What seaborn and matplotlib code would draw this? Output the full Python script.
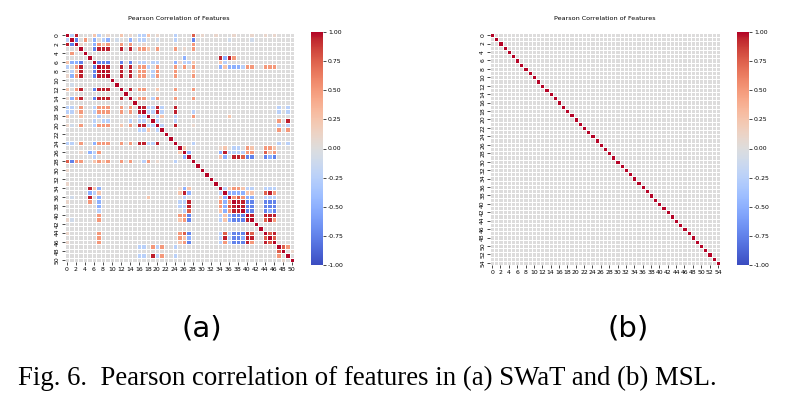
import numpy as np
import matplotlib
matplotlib.use("Agg")
import matplotlib.pyplot as plt
import seaborn as sns

# correlation levels used when reading the picture
levels = {"R": 0.95, "r": 0.75, "o": 0.5, "p": 0.25, "f": 0.1,
          "g": -0.1, "c": -0.25, "b": -0.5, "B": -0.75, "D": -0.95}

# SWaT: upper triangle, one string per row, "colLevel" tokens
swat_upper = [
    "1c 2R 6p 7c 9f 12p 14f 16c 17c 18p 20f 24c 28r 30f 33f 37f 41f 44f 46f",  # 0
    "2B 4o 6b 8c 9b 11g 14b 16c 17c 20g 24c 28B 36g 41g",                      # 1
    "3f 6b 7o 8p 9o 12o 14o 17f 28o",                                           # 2
    "6B 7R 8R 9R 12R 14R 16o 17o 18p 20o 24o 26f 28o",                          # 3
    "",                                                                         # 4
    "26b 34R 35b 36R 37o",                                                      # 5
    "7B 8B 9B 12B 14B 16c 17c 19c 20c 24b 25f 26c 27c 28p 34p 35c",            # 6
    "8R 9R 12R 14R 16o 17o 18c 20o 24o 26o 28o 34b 35p 36b 37b 38b 39c 40o 41o 44o 45o 46o",
    "9R 12R 14R 16o 17o 19c 20o 24o 28p",                                       # 8
    "12R 14R 16o 17o 19c 20o 24o 28o",                                          # 9
    "", "",                                                                     # 10, 11
    "14R 16o 17o 20p 24o 28o",                                                  # 12
    "",                                                                         # 13
    "16o 17o 19c 20o 24o 28o",                                                  # 14
    "",                                                                         # 15
    "17R 18c 19c 20R 21c 24R 47c 49c",                                          # 16
    "18c 19c 20R 21c 24R 28c 47c 49c",                                          # 17
    "20c 21p 24c 28o 36p",                                                      # 18
    "20c 24c 47o 49R",                                                          # 19
    "21c 24R 28f 47c 49c",                                                      # 20
    "47o 49o",                                                                  # 21
    "", "",                                                                     # 22, 23
    "28c 47c 49c",                                                              # 24
    "26p 34f 35p 37c 38c 40o 41p 44o 45o 46p",                                  # 25
    "27b 34b 35R 36c 37c 38c 39c 40o 41o 44r 45p 46o",                          # 26
    "34p 35b 37R 38R 39r 40B 41B 44B 45b 46B",                                  # 27
    "", "", "", "", "", "",                                                     # 28-33
    "35c 36p 37o 38o 39p 40c 41c 44c 45c 46c",                                  # 34
    "36b 37b 38b 39b 40p 41p 44r 45R 46o",                                      # 35
    "37o 38r 39o 40b 41b 44c 45c 46c",                                          # 36
    "38R 39R 40B 41B 44B 45B 46B",                                              # 37
    "39R 40B 41B 44B 45B 46B",                                                  # 38
    "40B 41B 44B 45b 46B",                                                      # 39
    "41R 44R 45R 46R",                                                          # 40
    "44r 45R 46o",                                                              # 41
    "", "",                                                                     # 42, 43
    "45r 46R",                                                                  # 44
    "46r",                                                                      # 45
    "",                                                                         # 46
    "48r 49o",                                                                  # 47
    "50f",                                                                      # 48
    "", "",                                                                     # 49, 50
]
n_swat = 51

# MSL: only the diagonal is coloured, everything else reads as 0
n_msl = 55
msl_diag = [1.0] * n_msl

cbar_ticks = [-1.0, -0.75, -0.5, -0.25, 0.0, 0.25, 0.5, 0.75, 1.0]

# build matrices
swat = np.eye(n_swat)
for r, row in enumerate(swat_upper):
    for tok in row.split():
        c, v = int(tok[:-1]), levels[tok[-1]]
        swat[r, c] = v
        swat[c, r] = v
msl = np.diag(msl_diag)

W, H = 802, 400
fig = plt.figure(figsize=(W / 100, H / 100), dpi=100)

def fx(px):
    return px / W

def fy(px):
    return 1 - px / H

def draw(matrix, ax_box, cb_box, lw):
    ax = fig.add_axes(ax_box)
    cax = fig.add_axes(cb_box)
    sns.heatmap(matrix, ax=ax, cbar_ax=cax, cmap="coolwarm", vmin=-1, vmax=1,
                linewidths=lw, linecolor="white",
                xticklabels=2, yticklabels=2,
                cbar_kws={"ticks": cbar_ticks, "format": "%.2f"})
    ax.set_title("Pearson Correlation of Features", fontsize=4.6, pad=9)
    ax.tick_params(axis="both", labelsize=4.4, length=2, width=0.5, pad=1.5)
    plt.setp(ax.get_yticklabels(), rotation=90, va="center")
    plt.setp(ax.get_xticklabels(), rotation=0)
    cax.tick_params(labelsize=4.4, length=2, width=0.5, pad=1.5)
    for s in cax.spines.values():
        s.set_visible(False)

draw(swat, [fx(64.5), fy(262), fx(229.5), 229.5 / H],
     [fx(311), fy(265), fx(12), 233 / H], 0.6)
draw(msl, [fx(490), fy(265), fx(230), 232 / H],
     [fx(737), fy(265), fx(12), 233 / H], 0.5)

fig.text(fx(202), fy(328), "(a)", fontsize=21, ha="center", va="center",
         family="DejaVu Sans")
fig.text(fx(628), fy(328), "(b)", fontsize=21, ha="center", va="center",
         family="DejaVu Sans")
fig.text(fx(18), fy(378), "Fig. 6.  Pearson correlation of features in (a) SWaT and (b) MSL.",
         fontsize=19.3, ha="left", va="center", family="Liberation Serif")

fig.savefig("out.png", dpi=100)
